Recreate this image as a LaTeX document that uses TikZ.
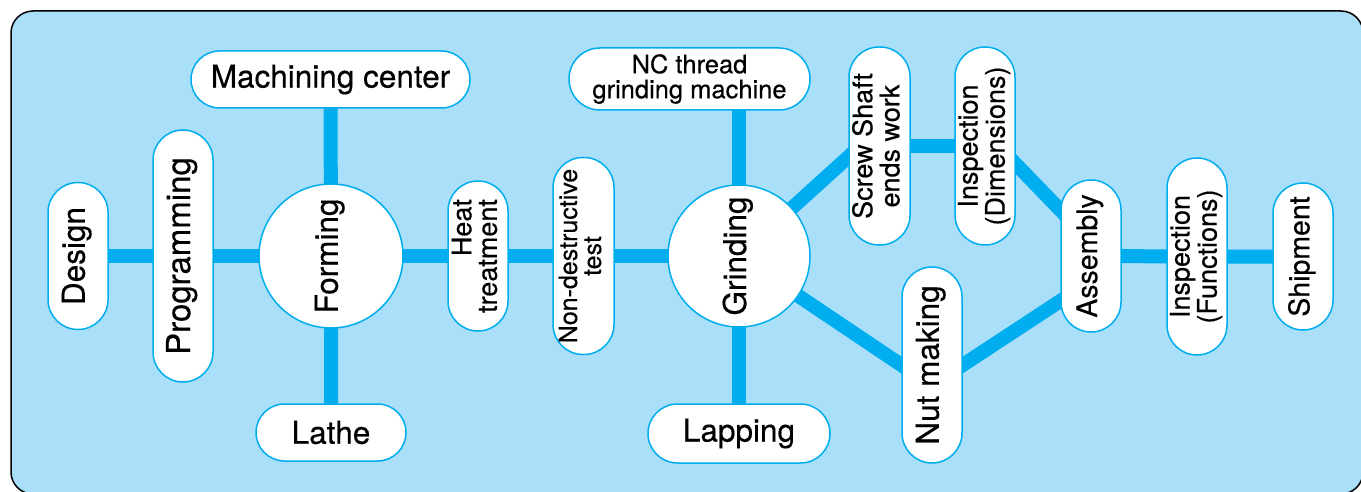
\documentclass[tikz,border=0pt]{standalone}
\usepackage{graphicx}
\usepackage{fontspec}
\setmainfont{TeX Gyre Heros}[FakeBold=0.4]
\usetikzlibrary{calc}
\definecolor{bgblue}{HTML}{A9DFF9}
\definecolor{lineblue}{HTML}{00AEEF}
\newcommand{\bigfont}{\fontsize{31.5}{31.5}\selectfont}
\newcommand{\smallfont}{\fontsize{27}{25}\selectfont}
\newcommand{\ndtfont}{\fontsize{25}{24}\selectfont}
\newcommand{\vlabel}[2][c]{\rotatebox{90}{\begin{tabular}{@{}#1@{}}#2\end{tabular}}}
\pgfdeclarelayer{back}
\pgfsetlayers{back,main}
\tikzset{
	stepnode/.style={draw=lineblue, line width=1.5pt, fill=white, inner sep=0pt, align=center, font=\bigfont},
	vpill/.style={stepnode, rectangle, rounded corners=30pt, minimum width=60pt, minimum height=#1},
	hpill/.style={stepnode, rectangle, rounded corners=28.5pt, minimum height=57pt, minimum width=#1},
	hub/.style={stepnode, circle, minimum size=#1},
	flow/.style={draw=lineblue, line width=14pt}
}

\begin{document}
\begin{tikzpicture}[x=1pt, y=-1pt]
			%%%%% START %%%%%
			\useasboundingbox (0, 0) rectangle (1361, 492);
			\begin{pgfonlayer}{back}
			\draw[line width=1.5pt, fill=bgblue, rounded corners=22pt] (11, 11) rectangle (1363, 494);
			\end{pgfonlayer}
			
			% forming
			\node[vpill=147pt] (design) at (78, 256) {\vlabel{Design}};
			\node[vpill=252pt, font=\fontsize{33}{33}\selectfont] (prog) at (183, 256) {\vlabel{Programming}};
			\node[hub=144pt] (forming) at (331, 256) {\vlabel{Forming}};
			\node[hpill=279pt] (machining) at (330.5, 79.5) {Machining center};
			\node[hpill=150pt] (lathe) at (331, 432.5) {Lathe};
			\node[vpill=150pt, font=\smallfont] (heat) at (478, 256) {\vlabel[r]{Heat\\treatment}};
			\node[vpill=197pt, minimum width=61pt, font=\ndtfont] (ndt) at (583.5, 256) {\vlabel{Non-destructive\\test}};
			
			% grinding
			\node[hub=142pt] (grinding) at (739, 256) {\vlabel{Grinding}};
			\node[hpill=241pt, minimum height=62pt, rounded corners=31pt, font=\fontsize{25.5}{25}\selectfont] (ncthread) at (689.5, 79) {NC thread\\grinding machine};
			\node[hpill=182pt, minimum height=59pt, rounded corners=29.5pt] (lapping) at (739, 433.5) {Lapping};
			\node[vpill=198pt, minimum width=61pt, font=\smallfont] (screw) at (879.5, 146) {\vlabel{Screw Shaft\\ends work}};
			\node[vpill=198pt, font=\smallfont] (dims) at (985, 146) {\vlabel{Inspection\\(Dimensions)}};
			\node[vpill=196pt] (nut) at (932, 365) {\vlabel{Nut making}};
			
			% assembly
			\node[vpill=152pt, font=\fontsize{28.5}{28.5}\selectfont] (assembly) at (1091, 256) {\vlabel{Assembly}};
			\node[vpill=197pt, font=\smallfont] (funcs) at (1197, 256.5) {\vlabel{Inspection\\(Functions)}};
			\node[vpill=147pt, font=\fontsize{28.5}{28.5}\selectfont] (ship) at (1303, 256.5) {\vlabel{Shipment}};
			
			\coordinate (screwin) at ([yshift=-11pt]screw.west);
			\coordinate (dimsout) at ([yshift=-18pt]dims.east);
			\coordinate (asmtop) at ([yshift=46pt]assembly.west);
			\coordinate (asmbot) at ([yshift=-45pt]assembly.west);
			
			\begin{pgfonlayer}{back}
			\draw[flow] (design.center) -- (prog.center) -- (forming.center) -- (heat.center) -- (ndt.center) -- (grinding.center);
			\draw[flow] (machining.center) -- (forming.center) -- (lathe.center);
			\draw[flow] (grinding.center |- ncthread.center) -- (grinding.center) -- (lapping.center);
			\draw[flow] (grinding.center) -- ($(grinding.center)!1.15!(screwin)$);
			\draw[flow] (grinding.center) -- ($(grinding.center)!1.1!(nut.west)$);
			\draw[flow] (screw.center) -- (dims.center);
			\draw[flow] ($(dimsout)!-0.3!(asmtop)$) -- ($(dimsout)!1.3!(asmtop)$);
			\draw[flow] ($(nut.east)!-0.15!(asmbot)$) -- ($(nut.east)!1.15!(asmbot)$);
			\draw[flow] (assembly.center) -- (funcs.center) -- (ship.center);
			\end{pgfonlayer}
			%%%%% END %%%%%
\end{tikzpicture}
\end{document}
